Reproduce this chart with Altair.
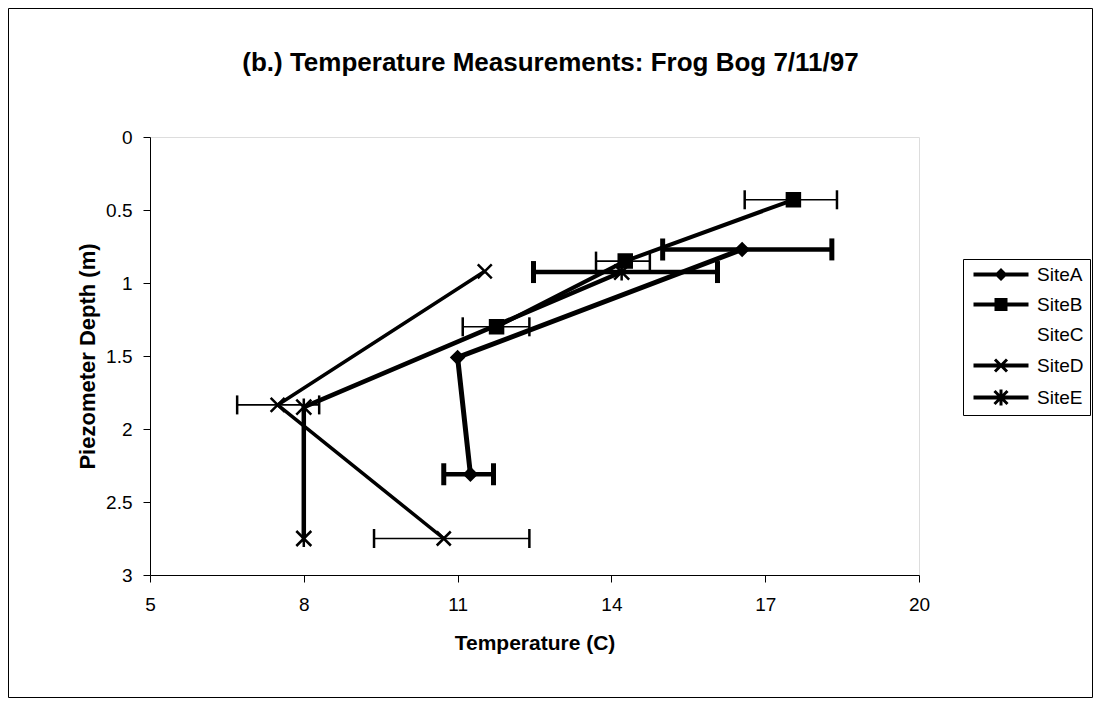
import altair as alt
import pandas as pd

sites = ["SiteA", "SiteB", "SiteC", "SiteD", "SiteE"]

siteA_temp = [16.55, 11.0, 11.25]
siteA_depth = [0.77, 1.51, 2.31]
siteA_err_lo = [15.0, None, 10.73]
siteA_err_hi = [18.3, None, 11.7]

siteB_temp = [17.55, 14.27, 11.76]
siteB_depth = [0.43, 0.85, 1.30]
siteB_err_lo = [16.6, 13.7, 11.1]
siteB_err_hi = [18.4, 14.75, 12.4]

siteD_temp = [11.53, 7.49, 10.73]
siteD_depth = [0.92, 1.835, 2.75]
siteD_err_lo = [None, 6.7, 9.37]
siteD_err_hi = [None, 8.3, 12.4]

siteE_temp = [14.2, 8.0, 8.0]
siteE_depth = [0.925, 1.85, 2.75]
siteE_err_lo = [12.48, None, None]
siteE_err_hi = [16.07, None, None]

x_ticks = [5, 8, 11, 14, 17, 20]
y_ticks = [0, 0.5, 1, 1.5, 2, 2.5, 3]

# ---- styles (kept separate from the data) ----
line_w = {"SiteA": 5, "SiteB": 4, "SiteD": 3.5, "SiteE": 4.5}
err_thick = {"SiteA": True, "SiteB": False, "SiteD": False, "SiteE": True}
FONT = "Liberation Sans"


def fmt(v):
    return f"{v:.3f}".rstrip("0").rstrip(".")


def poly(pts):
    return "M" + "L".join(f"{fmt(x)},{fmt(y)}" for x, y in pts) + "Z"


def x_glyph(cx, r, t):
    # two filled diagonal bars, same winding so they union
    n = t / 2 ** 0.5
    a = [(cx - r + n, -r - n), (cx + r + n, r - n), (cx + r - n, r + n), (cx - r - n, -r + n)]
    b = [(cx - r - n, r - n), (cx + r - n, -r - n), (cx + r + n, -r + n), (cx - r + n, r + n)]
    return poly(a) + poly(b)


def vbar(cx, h, t):
    return poly([(cx - t, -h), (cx + t, -h), (cx + t, h), (cx - t, h)])


LINE = poly([(-1, -0.4), (10, -0.4), (10, 0.4), (-1, 0.4)])
MC = 4.5
legend_paths = [
    LINE + poly([(MC - 1.3, 0), (MC, -1.3), (MC + 1.3, 0), (MC, 1.3)]),
    LINE + poly([(MC - 1.3, -1.3), (MC + 1.3, -1.3), (MC + 1.3, 1.3), (MC - 1.3, 1.3)]),
    "M0,0",
    LINE + x_glyph(MC, 1.2, 0.3),
    LINE + x_glyph(MC, 1.3, 0.3) + vbar(MC, 1.6, 0.3),
]

marker_paths = [
    "M-1.2,0L0,-1.2L1.2,0L0,1.2Z",
    "M-1.3,-1.3H1.3V1.3H-1.3Z",
    "M0,0",
    "M-1.4,-1.4L1.4,1.4M-1.4,1.4L1.4,-1.4",
    "M-1.5,-1.5L1.5,1.5M-1.5,1.5L1.5,-1.5M0,-1.7V1.7",
]

series = [
    ("SiteA", siteA_temp, siteA_depth, siteA_err_lo, siteA_err_hi),
    ("SiteB", siteB_temp, siteB_depth, siteB_err_lo, siteB_err_hi),
    ("SiteD", siteD_temp, siteD_depth, siteD_err_lo, siteD_err_hi),
    ("SiteE", siteE_temp, siteE_depth, siteE_err_lo, siteE_err_hi),
]
rows = []
for site, T, D, LO, HI in series:
    for i, (t, d, lo, hi) in enumerate(zip(T, D, LO, HI)):
        rows.append(dict(site=site, temp=t, depth=d, lo=lo, hi=hi, order=i,
                         lw=line_w[site], thick=err_thick[site]))
df = pd.DataFrame(rows)
err = df.dropna(subset=["lo"]).copy()
caps = pd.concat([
    err.assign(capx=err["lo"]),
    err.assign(capx=err["hi"]),
])[["site", "depth", "capx", "thick"]]

xscale = alt.Scale(domain=[5, 20], nice=False, zero=False)
yscale = alt.Scale(domain=[0, 3], reverse=True, nice=False, zero=False)

xaxis = alt.Axis(values=x_ticks, grid=False, tickSize=7, tickColor="black",
                 domainColor="black", labelFont=FONT, labelFontSize=19,
                 labelColor="black", labelPadding=13, labelFlush=False,
                 title="Temperature (C)", titleFont=FONT, titleFontSize=21,
                 titleFontWeight="bold", titleColor="black", titlePadding=18)
yaxis = alt.Axis(values=y_ticks, grid=False, tickSize=7, tickColor="black",
                 domainColor="black", labelFont=FONT, labelFontSize=19,
                 labelColor="black", labelPadding=11, format="~g",
                 title="Piezometer Depth (m)", titleFont=FONT, titleFontSize=22,
                 titleFontWeight="bold", titleColor="black", titlePadding=6)

base = alt.Chart(df)

lines = base.mark_line(color="black", strokeJoin="round").encode(
    x=alt.X("temp:Q", scale=xscale, axis=xaxis),
    y=alt.Y("depth:Q", scale=yscale, axis=yaxis),
    detail="site:N",
    order="order:Q",
    strokeWidth=alt.StrokeWidth("lw:Q", scale=None),
)

err_thick_rule = alt.Chart(err).transform_filter("datum.thick").mark_rule(
    color="black", strokeWidth=4.5).encode(
    x=alt.X("lo:Q", scale=xscale), x2="hi:Q", y=alt.Y("depth:Q", scale=yscale))
err_thin_rule = alt.Chart(err).transform_filter("!datum.thick").mark_rule(
    color="black", strokeWidth=1.6).encode(
    x=alt.X("lo:Q", scale=xscale), x2="hi:Q", y=alt.Y("depth:Q", scale=yscale))

caps_thick = alt.Chart(caps).transform_filter("datum.thick").mark_tick(
    orient="vertical", color="black", opacity=1, thickness=5, size=22).encode(
    x=alt.X("capx:Q", scale=xscale), y=alt.Y("depth:Q", scale=yscale))
caps_thin = alt.Chart(caps).transform_filter("!datum.thick").mark_tick(
    orient="vertical", color="black", opacity=1, thickness=2.5, size=19).encode(
    x=alt.X("capx:Q", scale=xscale), y=alt.Y("depth:Q", scale=yscale))

points = base.mark_point(filled=True, fill="black", stroke="black",
                         strokeWidth=2.5, opacity=1, size=100).encode(
    x=alt.X("temp:Q", scale=xscale),
    y=alt.Y("depth:Q", scale=yscale),
    shape=alt.Shape("site:N", scale=alt.Scale(domain=sites, range=marker_paths),
                    legend=None),
)

legend_layer = base.transform_filter("false").mark_point(
    filled=True, fill="black", opacity=1, size=100).encode(
    x=alt.X("temp:Q", scale=xscale),
    y=alt.Y("depth:Q", scale=yscale),
    shape=alt.Shape("site:N", scale=alt.Scale(domain=sites, range=legend_paths),
                    legend=alt.Legend(title=None, orient="none", legendX=813,
                                      legendY=122, symbolSize=100,
                                      symbolFillColor="black",
                                      symbolOpacity=1, labelFont=FONT,
                                      labelFontSize=19, labelColor="black",
                                      labelOffset=49, rowPadding=10,
                                      padding=6, strokeColor="black",
                                      fillColor="white", cornerRadius=0)),
)

border = alt.Chart(pd.DataFrame({"a": [0]})).mark_rect(
    fill=None, stroke="black", strokeWidth=1).encode(
    x=alt.value(-141.5), x2=alt.value(942.5),
    y=alt.value(-128.5), y2=alt.value(560.5))

chart = alt.layer(
    border, lines, err_thin_rule, err_thick_rule, caps_thin, caps_thick,
    points, legend_layer
).resolve_scale(shape="independent").properties(
    width=769, height=438,
    autosize=alt.AutoSizeParams(type="none"),
    padding={"left": 142, "top": 129, "right": 175, "bottom": 123},
    title=alt.TitleParams("(b.) Temperature Measurements: Frog Bog 7/11/97",
                          font=FONT, fontSize=26, fontWeight="bold",
                          color="black", anchor="middle", dx=16, offset=-68),
).configure_view(stroke=None).configure(background="white")

chart.save("out.html", embed_options={"renderer": "svg", "actions": False})
